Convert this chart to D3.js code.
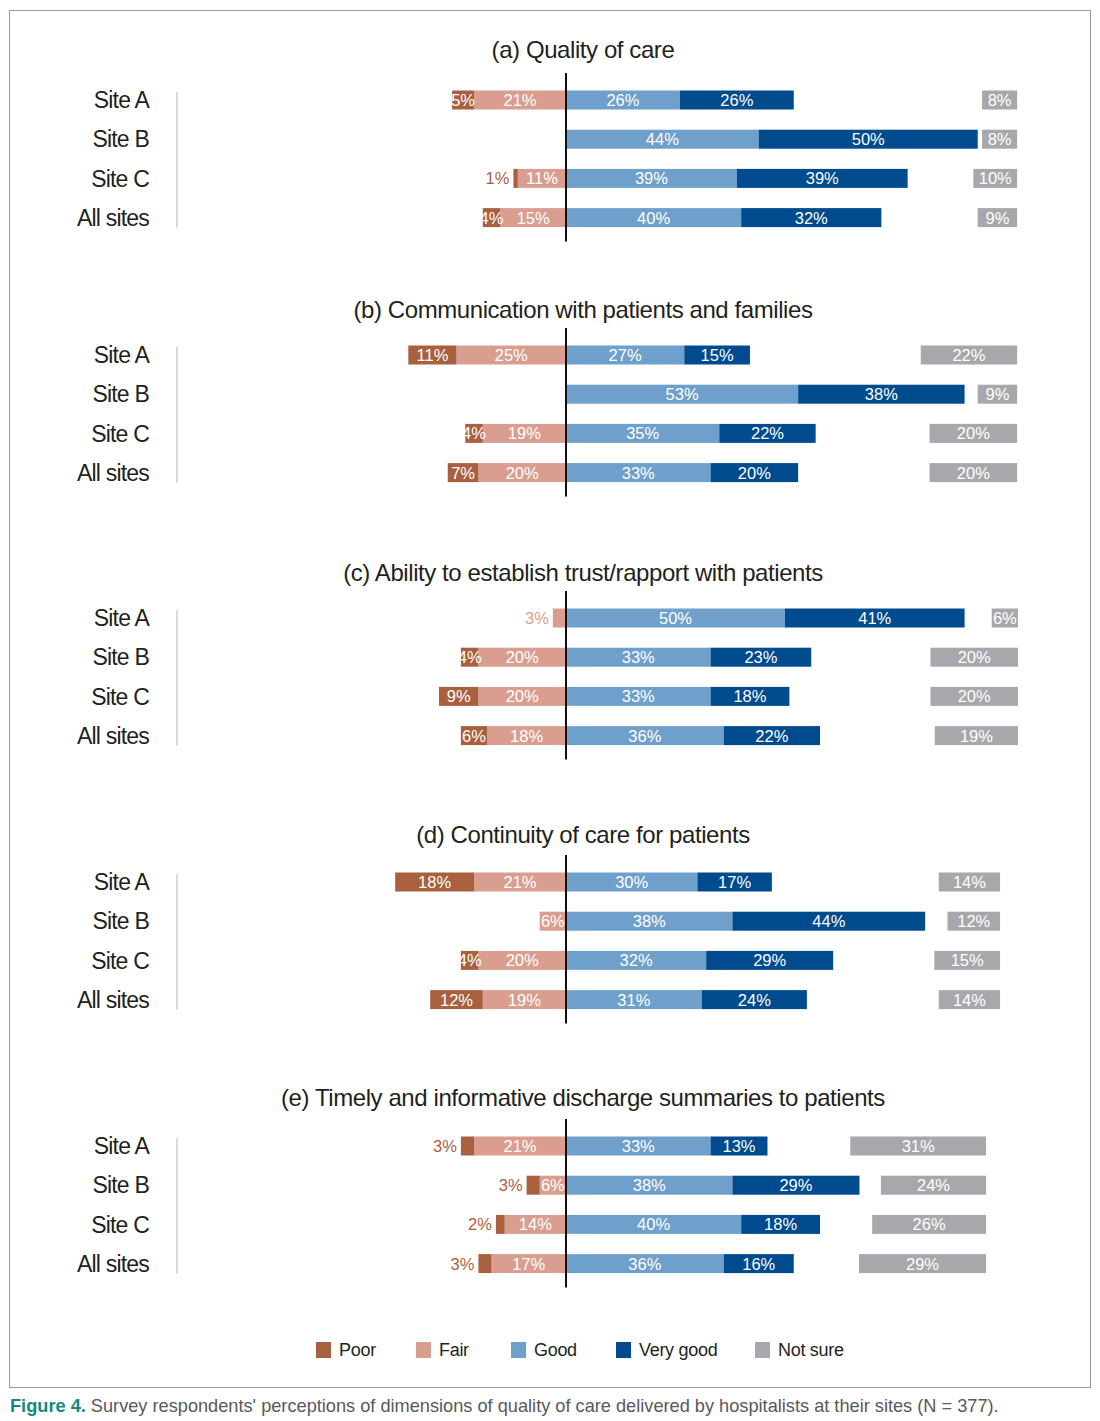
<!DOCTYPE html>
<html><head><meta charset="utf-8">
<script src="https://cdn.jsdelivr.net/npm/d3@7"></script>
<style>
body{margin:0;background:#fff;}
svg{display:block;}
</style></head>
<body>
<script>
// ---- data ----
const panelTitles = [
  "(a) Quality of care",
  "(b) Communication with patients and families",
  "(c) Ability to establish trust/rapport with patients",
  "(d) Continuity of care for patients",
  "(e) Timely and informative discharge summaries to patients"
];
const sites = ["Site A", "Site B", "Site C", "All sites"];
const categories = ["Poor", "Fair", "Good", "Very good", "Not sure"];
const poor     = [[5,0,1,4],[11,0,4,7],[0,4,9,6],[18,0,4,12],[3,3,2,3]];
const fair     = [[21,0,11,15],[25,0,19,20],[3,20,20,18],[21,6,20,19],[21,6,14,17]];
const good     = [[26,44,39,40],[27,53,35,33],[50,33,33,36],[30,38,32,31],[33,38,40,36]];
const veryGood = [[26,50,39,32],[15,38,22,20],[41,23,18,22],[17,44,29,24],[13,29,18,16]];
const notSure  = [[8,8,10,9],[22,9,20,20],[6,20,20,19],[14,12,15,14],[31,24,26,29]];
const caption = "Survey respondents' perceptions of dimensions of quality of care delivered by hospitalists at their sites (N = 377).";

// ---- layout ----
const W = 1100, H = 1421;
const colors = {"Poor":"#a8603f","Fair":"#d99e8f","Good":"#6f9fcb","Very good":"#004b8d","Not sure":"#a7a8ab"};
const labelColorOut = {"Poor":"#b0603c","Fair":"#dba08f"};
const panelRow1 = [100, 355, 618, 882, 1146];
const panelTitleY = [50, 310, 573, 835, 1098];
const notSureAnchor = [103.0, 103.0, 103.2, 99.1, 95.9];
const rowStep = 39.2, barH = 19;

const x = d3.scaleLinear().domain([0, 100]).range([566, 1004]);

const svg = d3.select("body").append("svg").attr("width", W).attr("height", H);
svg.append("rect").attr("x", 9.5).attr("y", 10.5).attr("width", 1081).attr("height", 1377)
  .attr("fill", "none").attr("stroke", "#9a9a9a").attr("stroke-width", 1);

const txtFont = "'Liberation Sans', Arial, sans-serif";
const valFont = "'Liberation Sans Narrow', 'Arial Narrow', 'Liberation Sans', sans-serif";

panelTitles.forEach((title, p) => {
  const g = svg.append("g");
  const y = d3.scaleBand().domain(sites)
    .range([panelRow1[p] - rowStep/2, panelRow1[p] + rowStep*3.5]).paddingInner(0).paddingOuter(0);
  const cy = s => y(s) + y.bandwidth()/2;

  g.append("text").attr("x", 583).attr("y", panelTitleY[p] - 0.5).attr("text-anchor", "middle")
    .attr("dominant-baseline", "central").attr("font-family", txtFont).attr("font-size", 24)
    .attr("letter-spacing", -0.42).attr("fill", "#231f20").text(title);

  // left axis
  const yAxis = d3.axisLeft(y).tickSize(0).tickPadding(28);
  const ax = g.append("g").attr("transform", "translate(177,0)").call(yAxis);
  ax.select(".domain").attr("stroke", "#b5b5b5").attr("d", `M0,${cy(sites[0]) - 8}V${cy(sites[3]) + 10}`);
  ax.selectAll("text").attr("font-family", txtFont).attr("font-size", 23).attr("letter-spacing", -0.8)
    .attr("fill", "#231f20").attr("dy", "0.36em").attr("x", -28);

  sites.forEach((s, i) => {
    const segs = [];
    const vP = poor[p][i], vF = fair[p][i], vG = good[p][i], vV = veryGood[p][i], vN = notSure[p][i];
    segs.push({cat:"Fair", v:vF, x0:-vF, x1:0});
    segs.push({cat:"Poor", v:vP, x0:-vF-vP, x1:-vF});
    segs.push({cat:"Good", v:vG, x0:0, x1:vG});
    segs.push({cat:"Very good", v:vV, x0:vG, x1:vG+vV});
    segs.push({cat:"Not sure", v:vN, x0:notSureAnchor[p]-vN, x1:notSureAnchor[p]});
    const yc = cy(s);
    segs.filter(d => d.v > 0).forEach(d => {
      g.append("rect").attr("x", x(d.x0)).attr("y", yc - barH/2)
        .attr("width", x(d.x1) - x(d.x0)).attr("height", barH).attr("fill", colors[d.cat]);
    });
    segs.filter(d => d.v > 0).forEach(d => {
      const outside = (d.cat === "Poor" || d.cat === "Fair") && d.v < 4;
      const t = g.append("text").attr("y", yc).attr("dy", "0.36em")
        .attr("font-family", valFont).attr("font-size", 16.5).text(d.v + "%");
      if (outside) {
        t.attr("x", x(d.x0) - 4).attr("text-anchor", "end").attr("fill", labelColorOut[d.cat]);
      } else {
        t.attr("x", (x(d.x0) + x(d.x1))/2).attr("text-anchor", "middle").attr("fill", "#ffffff");
      }
    });
  });

  // zero line
  g.append("line").attr("x1", x(0)).attr("x2", x(0))
    .attr("y1", cy(sites[0]) - 27).attr("y2", cy(sites[3]) + 24)
    .attr("stroke", "#111").attr("stroke-width", 2);
});

// legend
const legX = [316, 416, 511, 616, 755];
const lg = svg.append("g");
categories.forEach((c, i) => {
  lg.append("rect").attr("x", legX[i]).attr("y", 1342).attr("width", 15).attr("height", 16).attr("fill", colors[c]);
  lg.append("text").attr("x", legX[i] + 23).attr("y", 1350).attr("dy", "0.36em")
    .attr("font-family", txtFont).attr("font-size", 18).attr("letter-spacing", -0.3)
    .attr("fill", "#231f20").text(c);
});

// caption
const cap = svg.append("text").attr("x", 10).attr("y", 1405).attr("dy", "0.36em")
  .attr("font-family", valFont).attr("font-size", 18.2).attr("fill", "#58595b");
cap.append("tspan").attr("font-weight", "bold").attr("fill", "#13897e").text("Figure 4.");
cap.append("tspan").text(" " + caption);
</script>
</body></html>
